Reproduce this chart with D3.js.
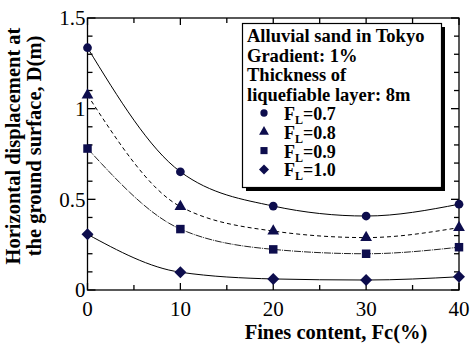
<!DOCTYPE html>
<html>
<head>
<meta charset="utf-8">
<script src="https://cdn.jsdelivr.net/npm/d3@7"></script>
<style>
  body { margin: 0; background: #fff; }
  svg { display: block; font-family: "Liberation Serif", "Times New Roman", serif; }
</style>
</head>
<body>
<svg id="chart" width="472" height="347"></svg>
<script>
// fines content (%) on x, horizontal displacement D(m) on y
var finesContent = [0, 10, 20, 30, 40];
var seriesNames = ["0.7", "0.8", "0.9", "1.0"];
var dFL07 = [1.336, 0.652, 0.463, 0.408, 0.473];
var dFL08 = [1.075, 0.46, 0.325, 0.289, 0.344];
var dFL09 = [0.78, 0.336, 0.224, 0.2, 0.236];
var dFL10 = [0.307, 0.098, 0.061, 0.055, 0.073];
var xTicks = [0, 10, 20, 30, 40];
var yTicks = [0, 0.5, 1, 1.5];
var legendLines = ["Alluvial sand in Tokyo", "Gradient: 1%", "Thickness of", "liquefiable layer: 8m"];

var navy = "#0d0d4d";
// diamond = square turned 45 degrees
var series = [
  { name: seriesNames[0], values: dFL07, symbol: d3.symbolCircle, size: 60, rot: 0, dash: null, stroke: "#000" },
  { name: seriesNames[1], values: dFL08, symbol: d3.symbolTriangle, size: 60, rot: 0, dash: "4,3", stroke: "#000" },
  { name: seriesNames[2], values: dFL09, symbol: d3.symbolSquare, size: 72, rot: 0, dash: "7,1,1,1", stroke: "#222" },
  { name: seriesNames[3], values: dFL10, symbol: d3.symbolSquare, size: 72, rot: 45, dash: null, stroke: "#000" }
];

var svg = d3.select("#chart"),
    plotL = 87.5, plotR = 459, plotT = 18, plotB = 290;

var x = d3.scaleLinear().domain([0, 40]).range([plotL, plotR]);
var y = d3.scaleLinear().domain([0, 1.5]).range([plotB, plotT]);

// curves
var line = d3.line()
    .x(function(d, i) { return x(finesContent[i]); })
    .y(function(d) { return y(d); })
    .curve(d3.curveMonotoneX);

series.forEach(function(s) {
  svg.append("path")
      .attr("d", line(s.values))
      .attr("fill", "none")
      .attr("stroke", s.stroke)
      .attr("stroke-width", 1)
      .attr("stroke-dasharray", s.dash);
});

// frame and inward ticks
var frame = svg.append("g").attr("stroke", "#000").attr("stroke-width", 1.3);
frame.append("rect")
    .attr("x", plotL).attr("y", plotT)
    .attr("width", plotR - plotL).attr("height", plotB - plotT)
    .attr("fill", "none");

d3.range(0, 41, 5).forEach(function(v) {
  var len = v % 10 === 0 ? 7 : 5;
  frame.append("line").attr("x1", x(v)).attr("x2", x(v)).attr("y1", plotB).attr("y2", plotB - len);
  frame.append("line").attr("x1", x(v)).attr("x2", x(v)).attr("y1", plotT).attr("y2", plotT + len);
});
d3.range(0, 16).forEach(function(k) {
  var v = k / 10, len = k % 5 === 0 ? 8 : 5;
  frame.append("line").attr("y1", y(v)).attr("y2", y(v)).attr("x1", plotL).attr("x2", plotL + len);
  frame.append("line").attr("y1", y(v)).attr("y2", y(v)).attr("x1", plotR).attr("x2", plotR - len);
});

// tick labels
svg.append("g").selectAll("text")
  .data(xTicks).enter().append("text")
    .attr("x", function(d) { return x(d); })
    .attr("y", plotB + 26)
    .attr("text-anchor", "middle")
    .attr("font-size", 21)
    .text(function(d) { return d; });

svg.append("g").selectAll("text")
  .data(yTicks).enter().append("text")
    .attr("x", plotL - 2)
    .attr("y", function(d) { return y(d); })
    .attr("dy", "0.35em")
    .attr("text-anchor", "end")
    .attr("font-size", 21)
    .text(function(d) { return d; });

// axis titles
svg.append("text")
    .attr("x", 336).attr("y", 339)
    .attr("text-anchor", "middle")
    .attr("font-size", 20.5).attr("font-weight", "bold")
    .text("Fines content, Fc(%)");

var yTitle = svg.append("g").attr("transform", "translate(0,146) rotate(-90)");
yTitle.append("text").attr("x", 0).attr("y", 20)
    .attr("text-anchor", "middle").attr("font-size", 20.5).attr("font-weight", "bold")
    .text("Horizontal displacement at");
yTitle.append("text").attr("x", 0).attr("y", 41)
    .attr("text-anchor", "middle").attr("font-size", 20.5).attr("font-weight", "bold")
    .text("the ground surface, D(m)");

// markers
series.forEach(function(s) {
  svg.append("g").selectAll("path")
    .data(s.values).enter().append("path")
      .attr("transform", function(d, i) {
        return "translate(" + x(finesContent[i]) + "," + y(d) + ") rotate(" + s.rot + ")";
      })
      .attr("d", d3.symbol().type(s.symbol).size(s.size))
      .attr("fill", navy);
});

// legend box with shadow
var lg = svg.append("g");
lg.append("rect").attr("x", 246).attr("y", 27).attr("width", 199).attr("height", 164).attr("fill", "#000");
lg.append("rect").attr("x", 242.5).attr("y", 23.5).attr("width", 199).attr("height", 164)
    .attr("fill", "#fff").attr("stroke", "#000").attr("stroke-width", 1.2);

lg.selectAll("text.head")
  .data(legendLines).enter().append("text")
    .attr("class", "head")
    .attr("x", 247)
    .attr("y", function(d, i) { return 42 + i * 19.7; })
    .attr("font-size", 18.5).attr("font-weight", "bold")
    .text(function(d) { return d; });

series.forEach(function(s, i) {
  var cy = 113 + i * 18.8;
  lg.append("path")
      .attr("transform", "translate(264," + cy + ") rotate(" + s.rot + ")")
      .attr("d", d3.symbol().type(s.symbol).size(s.size * 0.7))
      .attr("fill", navy);
  var t = lg.append("text")
      .attr("x", 284).attr("y", cy + 7)
      .attr("font-size", 18).attr("font-weight", "bold");
  t.append("tspan").text("F");
  t.append("tspan").attr("font-size", 12).attr("dy", 4).text("L");
  t.append("tspan").attr("dy", -4).text("=" + s.name);
});
</script>
</body>
</html>
